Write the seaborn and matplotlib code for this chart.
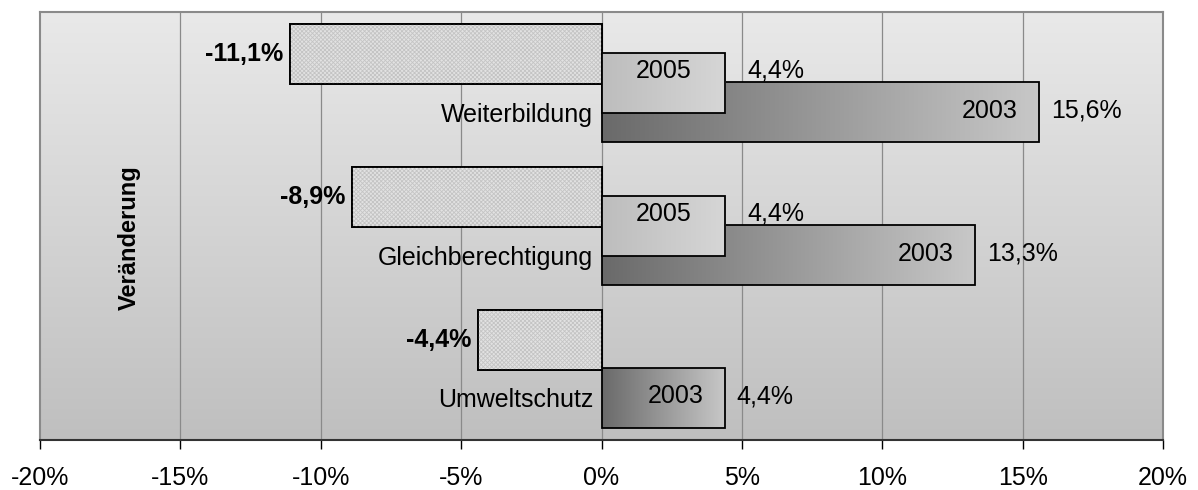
import numpy as np
import pandas as pd
import matplotlib
matplotlib.use("Agg")
import matplotlib.pyplot as plt
from matplotlib.colors import to_rgb
from matplotlib.patches import Rectangle
import seaborn as sns

# ---- data ----
categories = ["Weiterbildung", "Gleichberechtigung", "Umweltschutz"]
change = [-11.1, -8.9, -4.4]
share_2005 = [4.4, 4.4, np.nan]
share_2003 = [15.6, 13.3, 4.4]
series_names = ["2005", "2003"]
axis_label = "Veränderung"
tick_values = [-20, -15, -10, -5, 0, 5, 10, 15, 20]
tick_labels = ["-20%", "-15%", "-10%", "-5%", "0%", "5%", "10%", "15%", "20%"]

sns.set_style("white")
plt.rcParams["font.family"] = ["Liberation Sans", "DejaVu Sans"]
plt.rcParams["text.color"] = "black"
plt.rcParams["xtick.color"] = "black"
plt.rcParams["xtick.labelcolor"] = "black"
plt.rcParams["hatch.linewidth"] = 0.6

fig = plt.figure(figsize=(11.98, 4.9), dpi=100)
ax = fig.add_axes([40 / 1198, 1 - 440 / 490, 1123 / 1198, 428 / 490])

FS = 18
BAR_H = 0.42
OFF = 0.203


def fmt(v):
    return f"{v:.1f}".replace(".", ",") + "%"


def grad_img(c0, c1, n=256):
    a = np.array(to_rgb(c0))
    b = np.array(to_rgb(c1))
    t = np.linspace(0, 1, n)[None, :, None]
    return a + (b - a) * t


def draw_series(values, offset, zorder, kind):
    df = pd.DataFrame({"cat": categories, "val": values}).dropna()
    n0 = len(ax.patches)
    sns.barplot(data=df, x="val", y="cat", order=categories, orient="h",
                width=BAR_H, color="#cccccc", ax=ax, errorbar=None)
    patches = ax.patches[n0:]
    out = []
    for p in patches:
        p.set_y(p.get_y() + offset)
        bb = p.get_bbox()
        x0, x1 = min(bb.x0, bb.x1), max(bb.x0, bb.x1)
        y0, y1 = min(bb.y0, bb.y1), max(bb.y0, bb.y1)
        if kind == "neg":
            p.set_facecolor("#e2e2e2")
            hat = Rectangle((x0, y0), x1 - x0, y1 - y0, facecolor="none",
                            edgecolor="#c4c4c4", hatch="xxxxxxxx", lw=0,
                            zorder=zorder + 0.15)
            ax.add_patch(hat)
            edge = Rectangle((x0, y0), x1 - x0, y1 - y0, facecolor="none",
                             edgecolor="black", lw=1.3, zorder=zorder + 0.2)
            ax.add_patch(edge)
        else:
            if kind == "2003":
                img = grad_img("#6a6a6a", "#c8c8c8")
            else:
                img = grad_img("#bdbdbd", "#d6d6d6")
            im = ax.imshow(img, extent=(x0, x1, y1, y0), aspect="auto",
                           zorder=zorder, interpolation="bilinear")
            im.set_clip_path(p)
            p.set_facecolor("none")
        p.set_edgecolor("black")
        p.set_linewidth(1.3)
        p.set_zorder(zorder + 0.1)
        out.append(((y0 + y1) / 2, x1 if kind != "neg" else x0))
    return out


# background gradient
bg = np.linspace(0, 1, 256)[:, None, None]
top = np.array(to_rgb("#e9e9e9"))
bot = np.array(to_rgb("#bfbfbf"))
ax.imshow(top + (bot - top) * bg, extent=(-20, 20, 2.5, -0.5), aspect="auto",
          zorder=0, interpolation="bilinear")

neg = draw_series(change, -OFF, 3, "neg")
b2003 = draw_series(share_2003, OFF, 3, "2003")
b2005 = draw_series(share_2005, 0.0, 4, "2005")

# gridlines
for t in tick_values[1:-1]:
    ax.axvline(t, color="#8a8a8a", lw=0.9, zorder=1)

# labels
for (yc, x), v in zip(neg, change):
    ax.annotate(fmt(v), (x, yc), xytext=(-4.5, 0), textcoords="offset points",
                ha="right", va="center", fontsize=FS, fontweight="bold", zorder=6)

vals05 = [v for v in share_2005 if not np.isnan(v)]
for (yc, x), v in zip(b2005, vals05):
    ax.annotate(series_names[0], (x / 2, yc), xytext=(0, 9), textcoords="offset points",
                ha="center", va="center", fontsize=FS, zorder=6)
    ax.annotate(fmt(v), (x, yc), xytext=(16, 9), textcoords="offset points",
                ha="left", va="center", fontsize=FS, zorder=2.5)

for (yc, x), v, c in zip(b2003, share_2003, categories):
    ax.annotate(series_names[1], (x, yc), xytext=(-15.5, 1), textcoords="offset points",
                ha="right", va="center", fontsize=FS, zorder=6)
    ax.annotate(fmt(v), (x, yc), xytext=(8.5, 1), textcoords="offset points",
                ha="left", va="center", fontsize=FS, zorder=6)
    ax.annotate(c, (0, yc), xytext=(-6, -2), textcoords="offset points",
                ha="right", va="center", fontsize=FS, zorder=6)

ax.text(0.080, 0.474, axis_label, transform=ax.transAxes, rotation=90,
        ha="center", va="center", fontsize=17, fontweight="bold", zorder=6)

ax.set_xlim(-20, 20)
ax.set_ylim(2.5, -0.5)
ax.set_xticks(tick_values)
ax.set_xticklabels(tick_labels, fontsize=FS)
ax.set_yticks([])
ax.set_xlabel("")
ax.set_ylabel("")
ax.tick_params(axis="x", direction="out", length=6.5, width=1, color="black",
               pad=12, bottom=True)
for s in ["top", "left", "right"]:
    ax.spines[s].set_color("#8a8a8a")
    ax.spines[s].set_linewidth(1.5)
    ax.spines[s].set_visible(True)
ax.spines["bottom"].set_color("#333333")
ax.spines["bottom"].set_linewidth(1.5)

fig.savefig("out.png", dpi=100, facecolor="white")
